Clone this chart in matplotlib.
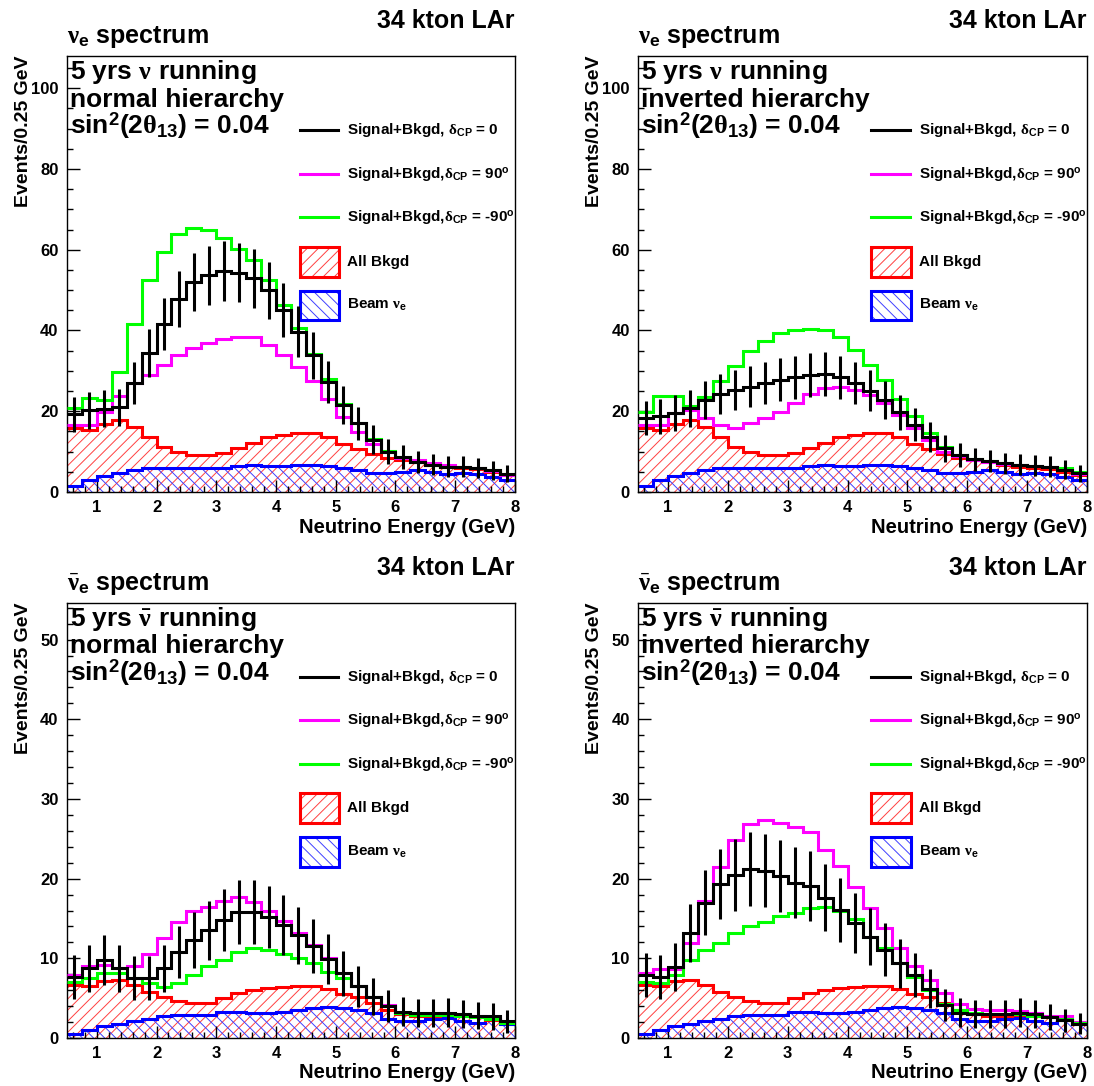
import numpy as np
import matplotlib.pyplot as plt
from matplotlib.lines import Line2D
from matplotlib.patches import Rectangle
from matplotlib.ticker import MultipleLocator

plt.rcParams['font.family'] = ['Liberation Sans', 'DejaVu Sans']
plt.rcParams['font.weight'] = 'bold'
plt.rcParams['mathtext.fontset'] = 'custom'
plt.rcParams['mathtext.rm'] = 'Liberation Serif'
plt.rcParams['mathtext.it'] = 'Liberation Serif:italic'
plt.rcParams['mathtext.sf'] = 'Liberation Sans:bold'
plt.rcParams['mathtext.bf'] = 'Liberation Sans:bold'
plt.rcParams['hatch.linewidth'] = 0.7

# 0.25 GeV bins, 0.5 - 8 GeV
edges = np.linspace(0.5, 8.0, 31)
centers = 0.5 * (edges[:-1] + edges[1:])

# neutrino running: backgrounds
nu_bkgd = [15.8, 15.3, 16.8, 17.8, 16.2, 13.7, 11.2, 10.0, 9.2, 9.2, 9.7, 10.8, 12.2, 13.5, 14.1,
           14.7, 14.5, 13.5, 12.0, 10.6, 9.4, 8.3, 7.9, 7.3, 6.7, 6.3, 5.9, 5.6, 5.0, 4.2]
nu_beam = [1.5, 3.0, 4.0, 4.8, 5.4, 5.9, 5.9, 5.9, 5.9, 6.0, 6.0, 6.4, 6.6, 6.4, 6.5,
           6.7, 6.7, 6.5, 6.0, 5.4, 4.8, 4.6, 5.0, 5.4, 5.0, 4.5, 4.6, 4.5, 3.8, 3.0]

# neutrino running, normal hierarchy
nh_nu_cp0 = [19.2, 20.2, 20.6, 21.0, 27.0, 34.4, 41.7, 47.9, 52.0, 53.7, 54.8, 54.3, 52.9, 50.0, 45.0,
             39.7, 33.9, 27.3, 21.5, 17.0, 12.9, 10.0, 8.7, 7.5, 6.7, 6.3, 6.3, 5.9, 5.4, 4.5]
nh_nu_cp90 = [16.6, 16.6, 19.9, 23.8, 26.9, 29.0, 31.4, 33.9, 35.6, 37.0, 37.8, 38.3, 38.3, 36.5, 34.0,
              31.0, 27.5, 23.0, 18.5, 14.8, 12.0, 9.8, 8.5, 7.8, 7.1, 6.7, 6.3, 5.9, 5.3, 4.2]
nh_nu_cpm90 = [20.7, 23.2, 22.9, 29.8, 41.7, 52.5, 59.5, 64.0, 65.5, 64.9, 63.0, 60.3, 57.4, 52.5, 46.3,
               40.5, 34.2, 28.0, 21.8, 17.0, 13.0, 10.2, 8.7, 7.5, 6.7, 6.3, 6.3, 5.9, 5.4, 4.5]

# neutrino running, inverted hierarchy
ih_nu_cp0 = [18.3, 18.7, 19.5, 20.7, 22.8, 24.3, 25.3, 26.1, 26.9, 27.8, 28.4, 29.0, 29.3, 28.4, 26.9,
             25.1, 22.8, 19.7, 16.6, 13.7, 10.8, 9.2, 8.1, 7.7, 7.1, 6.7, 6.5, 6.3, 5.5, 4.6]
ih_nu_cp90 = [16.6, 16.6, 19.5, 20.3, 18.3, 16.6, 15.8, 17.0, 18.3, 19.9, 22.0, 24.2, 25.7, 26.0, 25.3,
              24.0, 22.0, 19.1, 15.8, 12.9, 10.0, 8.8, 7.9, 7.4, 6.9, 6.7, 6.4, 6.1, 5.5, 4.5]
ih_nu_cpm90 = [19.9, 23.8, 23.8, 21.2, 23.6, 27.4, 31.1, 34.8, 37.5, 39.3, 40.0, 40.3, 40.2, 38.3, 35.2,
               31.5, 27.8, 23.0, 18.7, 14.5, 11.2, 9.2, 8.1, 7.7, 7.1, 6.7, 6.5, 6.3, 5.9, 5.0]

# antineutrino running: backgrounds
anu_bkgd = [6.7, 6.5, 7.1, 7.3, 6.7, 5.8, 5.2, 4.7, 4.4, 4.4, 5.0, 5.6, 6.0, 6.25, 6.4,
            6.5, 6.5, 6.1, 5.5, 5.2, 4.4, 3.5, 3.0, 2.8, 2.8, 2.9, 2.7, 2.6, 2.3, 2.0]
anu_beam = [0.5, 1.0, 1.5, 1.8, 2.1, 2.4, 2.7, 2.9, 2.9, 2.9, 3.3, 3.3, 3.2, 3.2, 3.3,
            3.5, 3.75, 3.9, 3.75, 3.5, 3.1, 2.4, 2.1, 2.1, 2.4, 2.5, 2.1, 1.9, 2.2, 1.7]

# antineutrino running, normal hierarchy
nh_anu_cp0 = [7.7, 8.75, 9.8, 8.75, 7.5, 7.5, 8.75, 10.8, 12.3, 13.5, 14.8, 15.8, 15.8, 15.2, 14.2,
              12.9, 11.5, 9.9, 8.1, 6.5, 5.2, 4.0, 3.3, 3.1, 3.1, 3.2, 3.0, 2.8, 2.7, 2.1]
nh_anu_cp90 = [7.9, 9.0, 9.2, 8.75, 9.0, 10.6, 12.6, 14.6, 15.9, 16.5, 17.2, 17.7, 17.1, 16.0, 14.7,
               13.2, 11.7, 10.0, 8.1, 6.5, 5.2, 4.2, 3.2, 3.0, 2.9, 3.1, 2.9, 2.7, 2.5, 2.0]
nh_anu_cpm90 = [7.0, 7.5, 8.1, 8.2, 7.5, 6.9, 6.4, 6.9, 7.9, 9.0, 9.8, 10.8, 11.25, 11.0, 10.6,
                10.0, 9.4, 8.3, 7.5, 6.5, 5.2, 4.0, 3.1, 2.9, 2.9, 2.9, 2.8, 2.6, 2.4, 1.9]

# antineutrino running, inverted hierarchy
ih_anu_cp0 = [7.9, 7.7, 8.9, 13.2, 17.0, 19.3, 20.5, 21.2, 21.0, 20.3, 19.5, 19.1, 17.6, 16.1, 14.4,
              12.7, 11.1, 9.4, 7.9, 6.2, 4.1, 3.2, 3.0, 3.0, 3.0, 3.2, 3.0, 2.6, 2.2, 1.8]
ih_anu_cp90 = [8.1, 8.6, 8.7, 11.9, 17.2, 21.4, 24.8, 26.9, 27.4, 27.0, 26.5, 25.8, 23.6, 21.6, 18.9,
               16.3, 13.8, 11.3, 9.0, 7.3, 5.7, 4.3, 3.7, 3.5, 3.5, 3.4, 3.2, 2.8, 2.7, 2.0]
ih_anu_cpm90 = [7.0, 6.9, 7.9, 9.8, 11.1, 11.9, 13.2, 14.0, 14.6, 15.3, 15.7, 16.3, 16.5, 15.9, 14.9,
                12.7, 11.3, 9.4, 7.7, 6.0, 4.3, 3.5, 3.1, 3.0, 3.0, 3.0, 2.8, 2.6, 2.4, 1.9]

leg_labels = [r'Signal+Bkgd, $\mathrm{\delta}_{\mathsf{CP}}$ = 0',
              r'Signal+Bkgd,$\mathrm{\delta}_{\mathsf{CP}}$ = 90$^{\mathsf{o}}$',
              r'Signal+Bkgd,$\mathrm{\delta}_{\mathsf{CP}}$ = -90$^{\mathsf{o}}$',
              'All Bkgd',
              r'Beam $\mathrm{\nu}_{\mathsf{e}}$']

RED_HATCH = '#ff4040'
BLUE_HATCH = '#4040ff'
LW = 2.2


def draw_panel(ax, cp0, cp90, cpm90, bkgd, beam, ymax, ymaj, ymin, title, run_text, hier):
    cp0 = np.array(cp0)
    ax.stairs(bkgd, edges, fill=True, facecolor='none', edgecolor=RED_HATCH,
              hatch='///', linewidth=0, zorder=1)
    ax.stairs(beam, edges, fill=True, facecolor='none', edgecolor=BLUE_HATCH,
              hatch='\\\\\\', linewidth=0, zorder=1.1)
    ax.stairs(beam, edges, color='#0000ff', lw=LW, baseline=None, zorder=2)
    ax.stairs(bkgd, edges, color='#ff0000', lw=LW, baseline=None, zorder=2.1)
    ax.stairs(cp90, edges, color='#ff00ff', lw=LW, baseline=None, zorder=3)
    ax.stairs(cpm90, edges, color='#00ff00', lw=LW, baseline=None, zorder=3.1)
    ax.stairs(cp0, edges, color='black', lw=LW, baseline=None, zorder=4)
    ax.errorbar(centers, cp0, yerr=np.sqrt(cp0), fmt='none', ecolor='black',
                elinewidth=LW, capsize=0, zorder=4)

    ax.set_xlim(0.5, 8.0)
    ax.set_ylim(0, ymax)
    ax.xaxis.set_major_locator(MultipleLocator(1))
    ax.xaxis.set_minor_locator(MultipleLocator(0.2))
    ax.yaxis.set_major_locator(MultipleLocator(ymaj))
    ax.yaxis.set_minor_locator(MultipleLocator(ymin))
    ax.tick_params(which='both', direction='in', top=False, right=False,
                   width=1, labelsize=12, pad=6)
    ax.tick_params(which='major', length=9)
    ax.tick_params(which='minor', length=4.5)
    for s in ax.spines.values():
        s.set_linewidth(1.0)

    ax.text(1.0, -0.093, 'Neutrino Energy (GeV)', transform=ax.transAxes,
            ha='right', va='baseline', fontsize=14.5)
    ax.text(-0.098, 1.0, 'Events/0.25 GeV', transform=ax.transAxes, rotation=90,
            ha='center', va='top', fontsize=14)
    ax.text(0.0, 1.03, title, transform=ax.transAxes, ha='left', va='baseline', fontsize=18)
    ax.text(1.0, 1.064, '34 kton LAr', transform=ax.transAxes, ha='right', va='baseline',
            fontsize=18)
    ax.text(0.007, 0.946, run_text, transform=ax.transAxes, ha='left', va='baseline', fontsize=19)
    ax.text(0.007, 0.884, hier, transform=ax.transAxes, ha='left', va='baseline', fontsize=19)
    ax.text(0.007, 0.822, r'sin$^{\mathbf{2}}$(2$\mathrm{\theta}_{\mathbf{13}}$) = 0.04',
            transform=ax.transAxes, ha='left', va='baseline', fontsize=19)

    # legend, drawn by hand like the ROOT TLegend
    rows = [0.830, 0.730, 0.630, 0.528, 0.428]
    for y, c in zip(rows[:3], ['black', '#ff00ff', '#00ff00']):
        ax.add_line(Line2D([0.520, 0.605], [y, y], color=c, lw=LW, transform=ax.transAxes))
    for y, hc, ec, h in [(rows[3], RED_HATCH, '#ff0000', '///'),
                         (rows[4], BLUE_HATCH, '#0000ff', '\\\\\\')]:
        ax.add_patch(Rectangle((0.520, y - 0.034), 0.087, 0.068, transform=ax.transAxes,
                               facecolor='none', edgecolor=hc, hatch=h, lw=0))
        ax.add_patch(Rectangle((0.520, y - 0.034), 0.087, 0.068, transform=ax.transAxes,
                               facecolor='none', edgecolor=ec, lw=LW))
    for y, lab in zip(rows, leg_labels):
        ax.text(0.625, y, lab, transform=ax.transAxes, ha='left', va='center', fontsize=11)


fig = plt.figure(figsize=(10.94, 10.86), dpi=100)
ax_tl = fig.add_axes([0.0612, 0.5470, 0.4095, 0.4015])
ax_tr = fig.add_axes([0.5832, 0.5470, 0.4104, 0.4015])
ax_bl = fig.add_axes([0.0612, 0.0442, 0.4095, 0.4006])
ax_br = fig.add_axes([0.5832, 0.0442, 0.4104, 0.4006])

nu_title = r'$\mathrm{\nu}_{\mathsf{e}}$ spectrum'
anu_title = r'$\bar{\mathrm{\nu}}_{\mathsf{e}}$ spectrum'
nu_run = r'5 yrs $\mathrm{\nu}$ running'
anu_run = r'5 yrs $\bar{\mathrm{\nu}}$ running'

draw_panel(ax_tl, nh_nu_cp0, nh_nu_cp90, nh_nu_cpm90, nu_bkgd, nu_beam, 108, 20, 5,
           nu_title, nu_run, 'normal hierarchy')
draw_panel(ax_tr, ih_nu_cp0, ih_nu_cp90, ih_nu_cpm90, nu_bkgd, nu_beam, 108, 20, 5,
           nu_title, nu_run, 'inverted hierarchy')
draw_panel(ax_bl, nh_anu_cp0, nh_anu_cp90, nh_anu_cpm90, anu_bkgd, anu_beam, 54.6, 10, 2,
           anu_title, anu_run, 'normal hierarchy')
draw_panel(ax_br, ih_anu_cp0, ih_anu_cp90, ih_anu_cpm90, anu_bkgd, anu_beam, 54.6, 10, 2,
           anu_title, anu_run, 'inverted hierarchy')

fig.savefig('out.png', dpi=100)
